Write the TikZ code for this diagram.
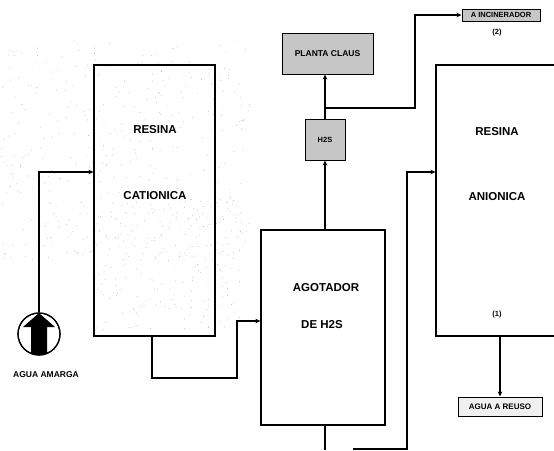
\documentclass[tikz,border=0pt]{standalone}
\usepackage{fontspec}
\setmainfont{Liberation Sans}
\usetikzlibrary{arrows.meta}
\begin{document}
\begin{tikzpicture}[x=1pt,y=-1pt,
  unit/.style={draw,line width=1.2pt,inner sep=0pt},
  tag/.style={draw,line width=1pt,fill=gray!45,inner sep=0pt,font=\bfseries\fontsize{8.5}{9}\selectfont},
  big/.style={font=\bfseries\fontsize{11.5}{12}\selectfont,inner sep=0pt},
  small/.style={font=\bfseries\fontsize{7.5}{8}\selectfont,inner sep=0pt},
  flow/.style={line width=1.2pt,-{Stealth[length=5pt,width=4.5pt]}},
  pipe/.style={line width=1.2pt}]
\fill[white] (0,0) rectangle (554,450);
\useasboundingbox (0,0) rectangle (554,450);
\clip (0,0) rectangle (554,450);
% scan stipple
\pgfmathsetseed{12}
\foreach \i in {1,...,400}{
  \pgfmathsetmacro\px{rnd*250}
  \pgfmathsetmacro\py{40+rnd*220}
  \fill[gray!70] (\px,\py) circle (0.4pt);
}
\foreach \i in {1,...,220}{
  \pgfmathsetmacro\px{90+rnd*150}
  \pgfmathsetmacro\py{200+rnd*130}
  \fill[gray!70] (\px,\py) circle (0.4pt);
}
% units
\node[unit,minimum width=121pt,minimum height=271pt] (cationica) at (154.5,200.5) {};
\node[unit,minimum width=124pt,minimum height=195pt] (agotador) at (323,327.5) {};
\node[unit,minimum width=164pt,minimum height=271pt] (anionica) at (518,200.5) {};
\node[tag,minimum width=91pt,minimum height=41pt] (planta) at (327.5,53.5) {PLANTA CLAUS};
\node[tag,minimum width=40pt,minimum height=41pt,font=\bfseries\fontsize{7.5}{8}\selectfont] (h2s) at (325,139.5) {H2S};
\node[tag,minimum width=78pt,minimum height=12pt,font=\bfseries\fontsize{7.5}{8}\selectfont] (incin) at (501,15) {A INCINERADOR};
\node[tag,fill=gray!12,minimum width=84pt,minimum height=19pt,font=\bfseries\fontsize{8}{9}\selectfont] (reuso) at (500,406.5) {AGUA A REUSO};
% labels inside units
\node[big] (t1) at (155,130) {RESINA};
\node[big] (t2) at (155,196) {CATIONICA};
\node[big] (t3) at (326,288) {AGOTADOR};
\node[big] (t4) at (322,325) {DE H2S};
\node[big] (t5) at (497,132) {RESINA};
\node[big] (t6) at (497,197) {ANIONICA};
\node[small] (t7) at (497,315) {(1)};
\node[small] (t8) at (497,33) {(2)};
% feed
\node[draw,circle,line width=1.2pt,minimum size=42pt,inner sep=0pt] (feed) at (39,334) {};
\begin{scope}
\clip (39,334) circle (21pt);
\fill[black] (31,360) -- (31,327) -- (23,327) -- (39,313) -- (55,327) -- (47,327) -- (47,360) -- cycle;
\end{scope}
\draw[line width=1.2pt] (feed) circle (21pt);
\node[font=\bfseries\fontsize{8.5}{9}\selectfont,inner sep=0pt] (t9) at (46,375) {AGUA AMARGA};
% helper coordinates
\coordinate (yin) at (0,172);
\coordinate (xc) at (152,0);
\coordinate (yc) at (0,378);
\coordinate (xa) at (237,0);
\coordinate (ya) at (0,321);
\coordinate (yb) at (0,108);
\coordinate (xb) at (415,0);
\coordinate (xr) at (500,0);
\coordinate (xd) at (407,0);
\coordinate (xe) at (353,0);
\coordinate (ye) at (0,449);
\coordinate (ybot) at (0,450);
% connectors
\draw[flow] (feed.north) -- (feed.north |- yin) -- (cationica.west |- yin);
\draw[flow] (cationica.south -| xc) -- (xc |- yc) -- (xa |- yc) -- (xa |- ya) -- (agotador.west |- ya);
\draw[flow] (h2s.south |- agotador.north) -- (h2s.south);
\draw[flow] (h2s.north) -- (h2s.north |- planta.south);
\draw[flow] (h2s.north |- yb) -- (xb |- yb) -- (xb |- incin.west) -- (incin.west);
\draw[flow] (anionica.south -| xr) -- (xr |- reuso.north);
\draw[pipe] (agotador.south -| h2s) -- (h2s |- ybot);
\draw[flow] (xe |- ye) -- (xd |- ye) -- (xd |- yin) -- (anionica.west |- yin);
\end{tikzpicture}
\end{document}
